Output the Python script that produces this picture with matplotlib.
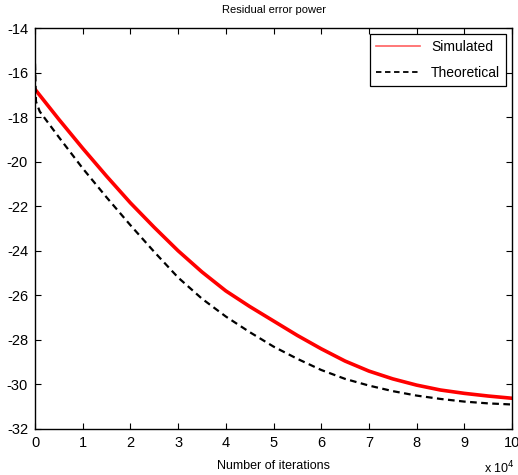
import matplotlib
matplotlib.use("Agg")
import matplotlib.pyplot as plt
from matplotlib.lines import Line2D

plt.rcParams['font.family'] = ['Liberation Sans', 'DejaVu Sans']

# values (x in units of 1e4 iterations, y in dB)
sim_x = [0, 0.5, 1, 1.5, 2, 2.5, 3, 3.5, 4, 4.5, 5, 5.5, 6, 6.5, 7, 7.5, 8, 8.5, 9, 9.5, 10]
sim_y = [-16.75, -18.1, -19.4, -20.65, -21.85, -22.95, -24.0, -24.95, -25.8, -26.5, -27.15,
         -27.8, -28.4, -28.95, -29.4, -29.75, -30.03, -30.25, -30.4, -30.52, -30.62]

theo_x = [0, 0.02, 0.1, 0.5, 1, 1.5, 2, 2.5, 3, 3.5, 4, 4.5, 5, 5.5, 6, 6.5, 7, 7.5, 8, 8.5, 9, 9.5, 10]
theo_y = [-15.6, -17.3, -17.75, -18.9, -20.3, -21.6, -22.85, -24.05, -25.2, -26.15, -26.95, -27.65,
          -28.3, -28.85, -29.35, -29.75, -30.05, -30.3, -30.5, -30.65, -30.77, -30.85, -30.9]

xticks = list(range(0, 11))
yticks = list(range(-32, -13, 2))

fig = plt.figure(figsize=(5.18, 4.75), dpi=100)
ax = fig.add_axes([35/518, 1 - 429/475, 477/518, 401/475])

ax.plot(sim_x, sim_y, color='red', lw=2.6)
ax.plot(theo_x, theo_y, color='black', lw=1.6, ls=(0, (3, 2)))

ax.set_xlim(0, 10)
ax.set_ylim(-32, -14)
ax.set_xticks(xticks)
ax.set_yticks(yticks)
ax.set_xticklabels([str(t) for t in xticks])
ax.set_yticklabels([str(t) for t in yticks])
ax.tick_params(direction='in', top=True, right=True, length=4, width=0.8, labelsize=10.5, pad=5)
for s in ax.spines.values():
    s.set_linewidth(1.0)

ax.set_title('Residual error power', fontsize=8, pad=11)
ax.set_xlabel('Number of iterations', fontsize=9, labelpad=7)
fig.text(515/518, 1 - 468/475, r'x 10$^4$', fontsize=9, ha='right', va='center')

handles = [Line2D([], [], color='#ff6060', lw=1.2),
           Line2D([], [], color='black', lw=1.3, ls=(0, (3, 2)))]
leg = ax.legend(handles, ['Simulated', 'Theoretical'], loc='upper right', fontsize=10,
                fancybox=False, framealpha=1, edgecolor='black', borderaxespad=0.45,
                handlelength=3.2, labelspacing=0.9)
leg.get_frame().set_linewidth(0.9)

fig.savefig('out.png', dpi=100)
